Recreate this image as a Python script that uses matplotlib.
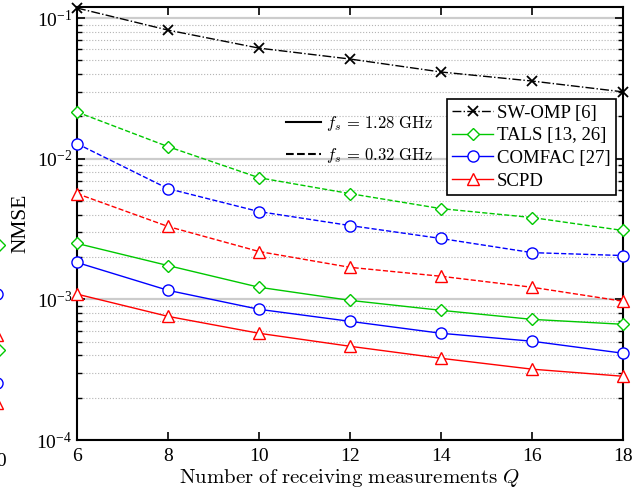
import matplotlib
matplotlib.use("Agg")
import matplotlib.pyplot as plt
from matplotlib.lines import Line2D
import numpy as np

plt.rcParams['font.family'] = ['Liberation Serif', 'DejaVu Serif']
plt.rcParams['mathtext.fontset'] = 'cm'

# data
Q = [6, 8, 10, 12, 14, 16, 18]
swomp = [0.118, 0.0822, 0.0612, 0.0512, 0.0414, 0.0357, 0.0299]
tals_032 = [0.0215, 0.0122, 0.00733, 0.00565, 0.00442, 0.00382, 0.00309]
comfac_032 = [0.0128, 0.00613, 0.00421, 0.00335, 0.00271, 0.00215, 0.00205]
scpd_032 = [0.00565, 0.0033, 0.00219, 0.00169, 0.00146, 0.00122, 0.00097]
tals_128 = [0.0025, 0.00174, 0.00122, 0.000984, 0.000836, 0.000721, 0.000665]
comfac_128 = [0.00183, 0.00116, 0.00085, 0.000698, 0.000574, 0.000504, 0.000414]
scpd_128 = [0.00109, 0.000757, 0.000574, 0.000464, 0.000381, 0.000319, 0.000284]

# neighbouring panel, only its last points show at the left edge
nb_x = [20]
nb_vals = [0.00242, 0.0011, 0.000555, 0.000435, 0.000254, 0.000183]
nb_colors = ['#00c800', 'b', 'r', '#00c800', 'b', 'r']
nb_markers = ['D', 'o', '^', 'D', 'o', '^']

green = '#00c800'

W, H = 640, 494
fig = plt.figure(figsize=(6.4, 4.94), dpi=100)
ax = fig.add_axes([77 / W, 1 - 440 / H, 546 / W, 433 / H])

ms = 8
ax.plot(Q, swomp, '-.', color='k', marker='x', ms=7, mew=1.3, lw=1, label='SW-OMP [6]', clip_on=False, zorder=5)
ax.plot(Q, tals_032, '--', color=green, marker='D', ms=ms - 1.5, mfc='white', lw=1, clip_on=False, zorder=5)
ax.plot(Q, comfac_032, '--', color='b', marker='o', ms=ms, mfc='white', lw=1, clip_on=False, zorder=5)
ax.plot(Q, scpd_032, '--', color='r', marker='^', ms=ms, mfc='white', lw=1, clip_on=False, zorder=5)
ax.plot(Q, tals_128, '-', color=green, marker='D', ms=ms - 1.5, mfc='white', lw=1, label='TALS [13, 26]', clip_on=False, zorder=5)
ax.plot(Q, comfac_128, '-', color='b', marker='o', ms=ms, mfc='white', lw=1, label='COMFAC [27]', clip_on=False, zorder=5)
ax.plot(Q, scpd_128, '-', color='r', marker='^', ms=ms, mfc='white', lw=1, label='SCPD', clip_on=False, zorder=5)

ax.set_yscale('log')
ax.set_xlim(6, 18)
ax.set_ylim(1e-4, 0.12)
ax.set_xticks(Q)
ax.grid(True, which='major', axis='y', color='#cccccc', lw=1.6, ls='-')
ax.grid(True, which='minor', axis='y', color='#b4b4b4', lw=0.8, ls=':')
ax.set_axisbelow(True)
ax.tick_params(which='both', direction='in', top=True, right=True, labelsize=14)
ax.tick_params(which='major', length=6, width=1.2)
ax.tick_params(which='minor', length=3.5, width=1)
ax.tick_params(axis='x', pad=6)
for s in ax.spines.values():
    s.set_linewidth(1.5)

ax.set_xlabel(r'$\mathrm{Number\ of\ receiving\ measurements}\ Q$', fontsize=15, labelpad=1)
ax.set_ylabel('NMSE', fontsize=15.5, labelpad=4)

leg1 = ax.legend(loc='upper right', bbox_to_anchor=(0.988, 0.788), borderaxespad=0,
                 fontsize=13.5, fancybox=False, edgecolor='k', framealpha=1,
                 handlelength=2.2, handletextpad=0.2, borderpad=0.3, labelspacing=0.3)
leg1.get_frame().set_linewidth(1.2)
ax.add_artist(leg1)

handles = [Line2D([], [], color='k', ls='-', lw=1.5), Line2D([], [], color='k', ls='--', lw=1.5)]
ax.legend(handles, [r'$f_s\,=\,1.28\ \mathrm{GHz}$', r'$f_s\,=\,0.32\ \mathrm{GHz}$'],
          loc='upper left', bbox_to_anchor=(0.355, 0.787), frameon=False, fontsize=12,
          handlelength=2.1, handletextpad=0.3, labelspacing=0.75)

# neighbouring panel cut off at the left edge
ax0 = fig.add_axes([-300 / W, 1 - 440 / H, 297 / W, 433 / H])
for v, c, m in zip(nb_vals, nb_colors, nb_markers):
    ax0.plot(nb_x, [v], ls='none', color=c, marker=m, ms=ms, mfc='white', clip_on=False)
ax0.set_yscale('log')
ax0.set_ylim(1e-4, 0.12)
ax0.set_xlim(0, 20)
ax0.set_xticks([20])
ax0.tick_params(axis='x', labelsize=14, pad=6)
ax0.set_yticks([])

fig.savefig('out.png', dpi=100)
